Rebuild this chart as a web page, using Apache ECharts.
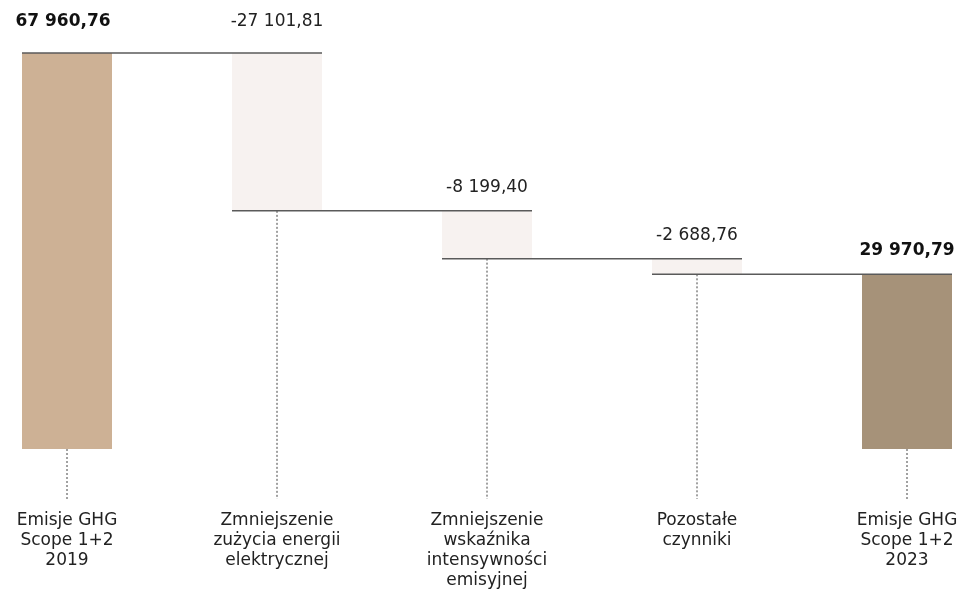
<!DOCTYPE html>
<html><head><meta charset="utf-8">
<script src="https://cdn.jsdelivr.net/npm/echarts@6/dist/echarts.min.js"></script>
<style>html,body{margin:0;padding:0;background:#fff}#c{width:964px;height:591px}</style>
</head><body><div id="c"></div>
<script>
var categories = ['Emisje GHG\nScope 1+2\n2019', 'Zmniejszenie\nzużycia energii\nelektrycznej', 'Zmniejszenie\nwskaźnika\nintensywności\nemisyjnej', 'Pozostałe\nczynniki', 'Emisje GHG\nScope 1+2\n2023'];
var changes = [67960.76, -27101.81, -8199.40, -2688.76, 29970.79];
var isTotal = [true, false, false, false, true];

var FONT = '"DejaVu Sans", sans-serif';
var BAR_W = 90;
var colors = {start:'#CDB195', end:'#A69279', delta:'#F7F2F0'};

function fmt(v){
  var neg = v < 0; v = Math.abs(v);
  var s = v.toFixed(2).split('.');
  var int = s[0].replace(/\B(?=(\d{3})+(?!\d))/g, ' ');
  return (neg ? '-' : '') + int + ',' + s[1];
}

// running totals
var cum = []; var run = 0;
for (var i = 0; i < changes.length; i++) {
  if (isTotal[i]) run = changes[i]; else run += changes[i];
  cum.push(run);
}
var base = [], vis = [], bottoms = [];
for (var i = 0; i < changes.length; i++) {
  if (isTotal[i]) { base.push(0); vis.push(changes[i]); bottoms.push(0); }
  else { base.push(cum[i]); vis.push(-changes[i]); bottoms.push(cum[i]); }
}

var visData = vis.map(function(v, i){
  var col = i === 0 ? colors.start : (i === changes.length-1 ? colors.end : colors.delta);
  return {
    value: v,
    itemStyle: {color: col},
    label: {
      show: true, position: 'top', distance: (i < 2 ? 23 : 15),
      offset: [i === 0 ? -4 : 0, 0],
      formatter: fmt(changes[i]),
      fontFamily: FONT, fontSize: 17,
      fontWeight: isTotal[i] ? 'bold' : 'normal',
      color: isTotal[i] ? '#111' : '#222'
    }
  };
});

var chart = echarts.init(document.getElementById('c'));
chart.setOption({
  animation: false,
  grid: {left: 67, right: 57, top: 41, bottom: 141},
  xAxis: {
    type: 'category', data: categories, boundaryGap: false,
    axisLine: {show: false}, axisTick: {show: false}, splitLine: {show: false},
    axisLabel: {margin: 62, fontFamily: FONT, fontSize: 17, lineHeight: 20, color: '#222', interval: 0, align: 'center', verticalAlign: 'top'}
  },
  yAxis: {type: 'value', min: 0, max: 70000, show: false, splitLine: {show: false}},
  series: [
    {type: 'bar', stack: 'w', data: base, barWidth: BAR_W, itemStyle: {color: 'transparent'}, silent: true},
    {type: 'bar', stack: 'w', data: visData, barWidth: BAR_W},
    {
      type: 'custom', silent: true, z: 5,
      data: bottoms.map(function(b, i){ return [i, b]; }),
      renderItem: function(params, api){
        var p = api.coord([api.value(0), api.value(1)]);
        var b0 = api.coord([api.value(0), 0]);
        return {type: 'line', shape: {x1: p[0], y1: p[1], x2: p[0], y2: b0[1] + 50},
          style: {stroke: '#444', lineWidth: 1, lineDash: [2, 2]}};
      }
    },
    {
      type: 'custom', silent: true, z: 6,
      data: cum.slice(0, cum.length-1).map(function(c, i){ return [i, c]; }),
      renderItem: function(params, api){
        var i = api.value(0);
        var p1 = api.coord([i, api.value(1)]);
        var p2 = api.coord([i + 1, api.value(1)]);
        return {type: 'line', shape: {x1: p1[0] - BAR_W/2, y1: p1[1], x2: p2[0] + BAR_W/2, y2: p1[1]},
          style: {stroke: '#5a5a5a', lineWidth: 1.5}};
      }
    }
  ]
});
</script></body></html>
